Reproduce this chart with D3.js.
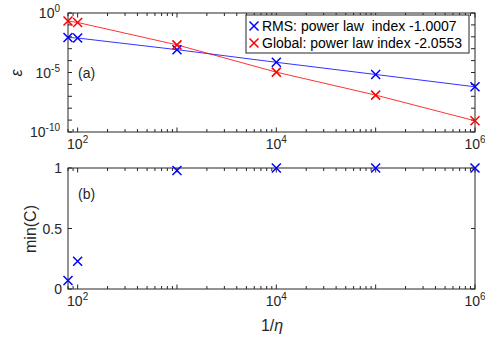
<!DOCTYPE html>
<html>
<head>
<meta charset="utf-8">
<script src="https://cdn.jsdelivr.net/npm/d3@7"></script>
<style>
  body { margin: 0; background: #fff; }
  svg { font-family: 'Liberation Sans', Arial, sans-serif; }
</style>
</head>
<body>
<svg id="chart" width="485" height="343"></svg>
<script>
const invEta = [80, 100, 1e3, 1e4, 1e5, 1e6]
const rmsErr = [8.7e-3, 7.9e-3, 8.3e-4, 7.2e-5, 6.8e-6, 6.3e-7]
const globalErr = [0.21, 0.16, 2.1e-3, 1.07e-5, 1.26e-7, 8.7e-10]
const minC = [0.07, 0.23, 0.98, 1.0, 1.0, 1.0]
const xMajor = [1e2, 1e4, 1e6]
const yTopMajor = [0, -5, -10]
const yBotTicks = [0, 0.5, 1]
const legendLabels = ['RMS: power law  index -1.0007', 'Global: power law index -2.0553']

const AX = '#262626'
const BLUE = '#0000ff'
const RED = '#ff0000'

const svg = d3.select('#chart')

const x = d3.scaleLog().domain([80, 1e6]).range([68, 475])
const yTop = d3.scaleLog().domain([1e-10, 1]).range([132, 13])
const yBot = d3.scaleLinear().domain([0, 1]).range([289, 168])

// minor ticks for log x axis
const xMinor = []
for (let e = 1; e < 6; e++) {
  for (let m = 2; m <= 9; m++) {
    const v = m * Math.pow(10, e)
    if (v >= 80 && v <= 1e6) xMinor.push(v)
  }
}
const xAllMajor = [1e3, 1e5, ...xMajor]
const yDecades = d3.range(-10, 1).map(e => Math.pow(10, e))

function drawPanel(y, yTicksVals, top, bottom) {
  const g = svg.append('g')
  const [x0, x1] = x.range()
  // box
  g.append('rect')
    .attr('x', x0).attr('y', top)
    .attr('width', x1 - x0).attr('height', bottom - top)
    .attr('fill', 'none').attr('stroke', AX).attr('stroke-width', 1)

  // x ticks, inward on bottom and top
  const xt = xMinor.map(v => ({ v, len: 3 })).concat(xAllMajor.map(v => ({ v, len: 4.5 })))
  xt.forEach(t => {
    const px = x(t.v)
    g.append('line').attr('x1', px).attr('x2', px).attr('y1', bottom).attr('y2', bottom - t.len)
      .attr('stroke', AX).attr('stroke-width', 1)
    g.append('line').attr('x1', px).attr('x2', px).attr('y1', top).attr('y2', top + t.len)
      .attr('stroke', AX).attr('stroke-width', 1)
  })
  // y ticks, inward on left and right
  yTicksVals.forEach(v => {
    const py = y(v)
    g.append('line').attr('x1', x0).attr('x2', x0 + 4).attr('y1', py).attr('y2', py)
      .attr('stroke', AX).attr('stroke-width', 1)
    g.append('line').attr('x1', x1).attr('x2', x1 - 4).attr('y1', py).attr('y2', py)
      .attr('stroke', AX).attr('stroke-width', 1)
  })
  // x tick labels
  xMajor.forEach(v => {
    const t = g.append('text')
      .attr('x', x(v)).attr('y', bottom + 17)
      .attr('text-anchor', 'middle')
      .attr('font-size', 14).attr('fill', AX)
    t.append('tspan').text('10')
    t.append('tspan').attr('dy', -6).attr('font-size', 10).text(Math.log10(v))
  })
  return g
}

function drawMarkers(g, xs, ys, y, color) {
  const s = 4.5
  xs.forEach((xv, i) => {
    const px = x(xv), py = y(ys[i])
    g.append('path')
      .attr('d', `M${px - s},${py - s}L${px + s},${py + s}M${px - s},${py + s}L${px + s},${py - s}`)
      .attr('stroke', color).attr('stroke-width', 1.5).attr('fill', 'none')
  })
}

// panel (a)
const ga = drawPanel(yTop, yDecades, 13, 132)
yTopMajor.forEach(e => {
  const t = ga.append('text')
    .attr('x', 60).attr('y', yTop(Math.pow(10, e)) + 5)
    .attr('text-anchor', 'end')
    .attr('font-size', 14).attr('fill', AX)
  t.append('tspan').text('10')
  t.append('tspan').attr('dy', -6).attr('font-size', 10).text(e === 0 ? '0' : '-' + Math.abs(e))
})

const lineTop = d3.line().x(d => x(d[0])).y(d => yTop(d[1]))
ga.append('path').datum(invEta.map((v, i) => [v, rmsErr[i]]))
  .attr('d', lineTop).attr('fill', 'none').attr('stroke', BLUE).attr('stroke-width', 0.8)
ga.append('path').datum(invEta.map((v, i) => [v, globalErr[i]]))
  .attr('d', lineTop).attr('fill', 'none').attr('stroke', RED).attr('stroke-width', 0.8)
drawMarkers(ga, invEta, rmsErr, yTop, BLUE)
drawMarkers(ga, invEta, globalErr, yTop, RED)

ga.append('text').attr('x', 78).attr('y', 78).attr('font-size', 14).attr('fill', AX).text('(a)')
ga.append('text')
  .attr('transform', 'translate(22,73) rotate(-90)')
  .attr('text-anchor', 'middle')
  .attr('font-size', 16).attr('font-style', 'italic').attr('fill', AX)
  .text('ε')

// legend
const lg = ga.append('g')
lg.append('rect').attr('x', 246).attr('y', 15).attr('width', 223).attr('height', 38)
  .attr('fill', '#fff').attr('stroke', AX).attr('stroke-width', 1)
;[BLUE, RED].forEach((c, i) => {
  const cy = 26 + i * 17
  const s = 4.5
  lg.append('path')
    .attr('d', `M${254 - s},${cy - s}L${254 + s},${cy + s}M${254 - s},${cy + s}L${254 + s},${cy - s}`)
    .attr('stroke', c).attr('stroke-width', 1.5)
  lg.append('text').attr('x', 262).attr('y', cy + 5)
    .attr('font-size', 14).attr('fill', '#000')
    .attr('xml:space', 'preserve').style('white-space', 'pre')
    .text(legendLabels[i])
})

// panel (b)
const gb = drawPanel(yBot, yBotTicks, 168, 289)
yBotTicks.forEach(v => {
  gb.append('text')
    .attr('x', 62).attr('y', yBot(v) + 5)
    .attr('text-anchor', 'end')
    .attr('font-size', 14).attr('fill', AX)
    .text(v)
})
drawMarkers(gb, invEta, minC, yBot, BLUE)
gb.append('text').attr('x', 78).attr('y', 199).attr('font-size', 14).attr('fill', AX).text('(b)')
gb.append('text')
  .attr('transform', 'translate(36,229) rotate(-90)')
  .attr('text-anchor', 'middle')
  .attr('font-size', 16).attr('fill', AX)
  .text('min(C)')

const xl = svg.append('text')
  .attr('x', 272).attr('y', 331)
  .attr('text-anchor', 'middle')
  .attr('font-size', 16).attr('fill', AX)
xl.append('tspan').text('1/')
xl.append('tspan').attr('font-style', 'italic').text('η')
</script>
</body>
</html>
